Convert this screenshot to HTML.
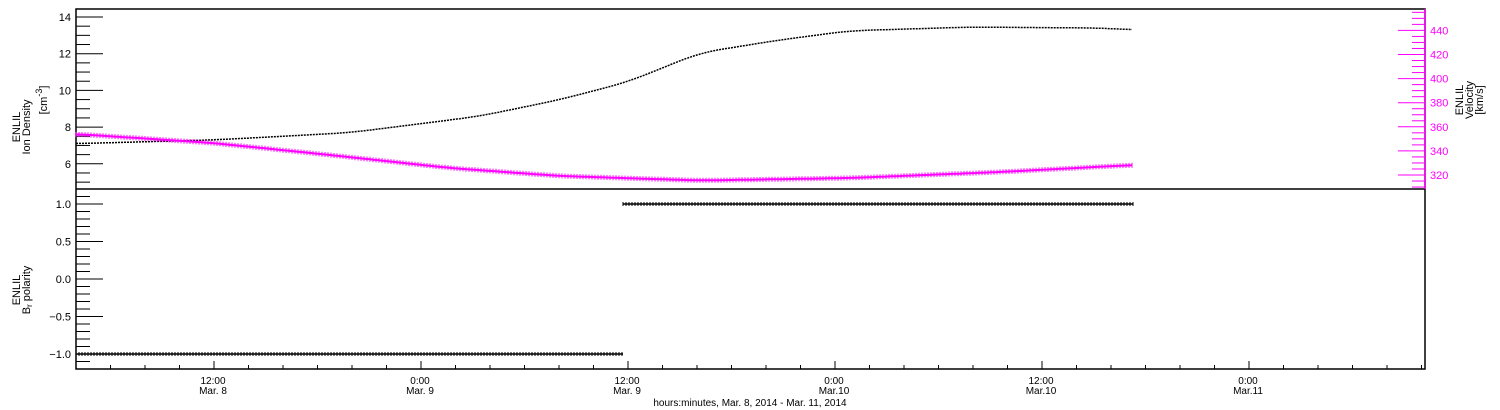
<!DOCTYPE html>
<html><head><meta charset="utf-8"><style>
html,body{margin:0;padding:0;background:#fff;width:1500px;height:410px;overflow:hidden}
svg{display:block;font-family:"Liberation Sans",sans-serif}
</style></head><body>
<svg id="s" width="1500" height="410" xmlns="http://www.w3.org/2000/svg">
<rect x="76" y="9" width="1349" height="360" fill="none" stroke="#000" stroke-width="1.5"/>
<line x1="76" y1="189" x2="1425" y2="189" stroke="#000" stroke-width="1.5"/>
<g id="g"></g>
<g font-size="11" fill="#000">
<text transform="translate(20,127) rotate(-90)" text-anchor="middle">ENLIL</text>
<text transform="translate(30,127) rotate(-90)" text-anchor="middle">Ion Density</text>
<text transform="translate(47,100) rotate(-90)" text-anchor="middle">[cm<tspan dy="-5" font-size="9">-3</tspan><tspan dy="5">]</tspan></text>
<text transform="translate(20,290) rotate(-90)" text-anchor="middle">ENLIL</text>
<text transform="translate(30,290) rotate(-90)" text-anchor="middle">B<tspan font-size="8" dy="2">r</tspan><tspan dy="-2"> polarity</tspan></text>
<text transform="translate(1463,100) rotate(-90)" text-anchor="middle">ENLIL</text>
<text transform="translate(1473,100) rotate(-90)" text-anchor="middle">Velocity</text>
<text transform="translate(1483,100) rotate(-90)" text-anchor="middle">[km/s]</text>
<text x="750" y="406" text-anchor="middle" font-size="10">hours:minutes, Mar.  8, 2014 - Mar. 11, 2014</text>
</g>
</svg>
<script>
var g=document.getElementById('g'),h='';
function L(a,b,c,d,col,w){h+='<line x1="'+a+'" y1="'+b+'" x2="'+c+'" y2="'+d+'" stroke="'+(col||'#000')+'" stroke-width="'+(w||1)+'"/>';}
function T(x,y,t,anc,col){h+='<text x="'+x+'" y="'+y+'" font-size="11" text-anchor="'+anc+'" fill="'+(col||'#000')+'">'+t+'</text>';}
function yd(v){return 17+(14-v)*18.35;}
for(var v=4.5;v<=14.6;v+=0.5){var y=yd(v);if(y<10||y>188)continue;var maj=Math.abs(v-Math.round(v/2)*2)<1e-6;L(76,y,maj?103:90,y);if(maj)T(71,y+4,v,'end');}
function yv(v){return 175-(v-320)*1.205;}
for(var v=310;v<=455;v+=5){var y=yv(v);if(y<10||y>188)continue;var maj=v%20==0;L(1425,y,maj?1398:1412,y,'#f0f');if(maj)T(1430,y+4,v,'start','#f0f');}
L(1425,9,1425,189,'#f0f',1.5);
function yp(v){return 279-v*75;}
for(var i=-12;i<=12;i++){var v=i/10,y=yp(v);if(y<190||y>368)continue;var maj=i%5==0;L(76,y,maj?103:90,y);if(maj)T(71,y+4,(v<0?'\u2212':'')+Math.abs(v).toFixed(1),'end');}
for(var k=0;k*2*17.25+76<1425;k++){var x=76+k*34.5;var hr=4+2*k;var maj=hr%12==0;L(x,369,x,maj?361:365);}
var labs=[[213,'12:00','Mar. 8'],[420,'0:00','Mar. 9'],[627,'12:00','Mar. 9'],[834,'0:00','Mar.10'],[1041,'12:00','Mar.10'],[1248,'0:00','Mar.11']];
labs.forEach(function(l){h+='<text x="'+l[0]+'" y="384" font-size="10" text-anchor="middle">'+l[1]+'</text><text x="'+l[0]+'" y="394" font-size="10" text-anchor="middle">'+l[2]+'</text>';});
function interp(pts,x){for(var i=0;i<pts.length-1;i++){if(x>=pts[i][0]&&x<=pts[i+1][0]){var t=(x-pts[i][0])/(pts[i+1][0]-pts[i][0]);return pts[i][1]+t*(pts[i+1][1]-pts[i][1]);}}return pts[pts.length-1][1];}
function smooth(pts,x){var s=0,n=0;for(var d=-20;d<=20;d+=4){var xx=Math.min(Math.max(x+d,pts[0][0]),pts[pts.length-1][0]);s+=interp(pts,xx);n++;}return s/n;}
var dens=[[76,7.1],[213,7.3],[300,7.55],[350,7.7],[430,8.25],[480,8.6],[560,9.5],[627,10.45],[700,12.05],[780,12.75],[850,13.25],[970,13.45],[1100,13.4],[1133,13.3]];
var vel=[[76,134],[213,143],[330,155],[450,168],[560,176],[700,180.5],[850,178],[1000,172],[1133,165]];
var pd='',pv='',mk='';
for(var x=76;x<=1133;x+=3){var yy=yd(smooth(dens,x));pd+=(pd?'L':'M')+x+' '+yy.toFixed(1);var y2=smooth(vel,x);pv+=(pv?'L':'M')+x+' '+y2.toFixed(1);mk+='M'+x+' '+(y2-2.5).toFixed(1)+'v5';}
h+='<path d="'+pd+'" fill="none" stroke="#000" stroke-width="1.5" stroke-dasharray="2 1"/>';
h+='<path d="'+pv+'" fill="none" stroke="#f0f" stroke-width="2"/><path d="'+mk+'" stroke="#f0f" stroke-width="1"/>';
var m1='',m2='';for(var x=76;x<=623;x+=3)m1+='M'+x+' '+(yp(-1)-2)+'v4';for(var x=623;x<=1133;x+=3)m2+='M'+x+' '+(yp(1)-2)+'v4';
L(76,yp(-1),623,yp(-1),'#000',1.5);L(623,yp(1),1133,yp(1),'#000',1.5);
h+='<path d="'+m1+m2+'" stroke="#000" stroke-width="1"/>';
g.innerHTML=h;
</script>
</body></html>
